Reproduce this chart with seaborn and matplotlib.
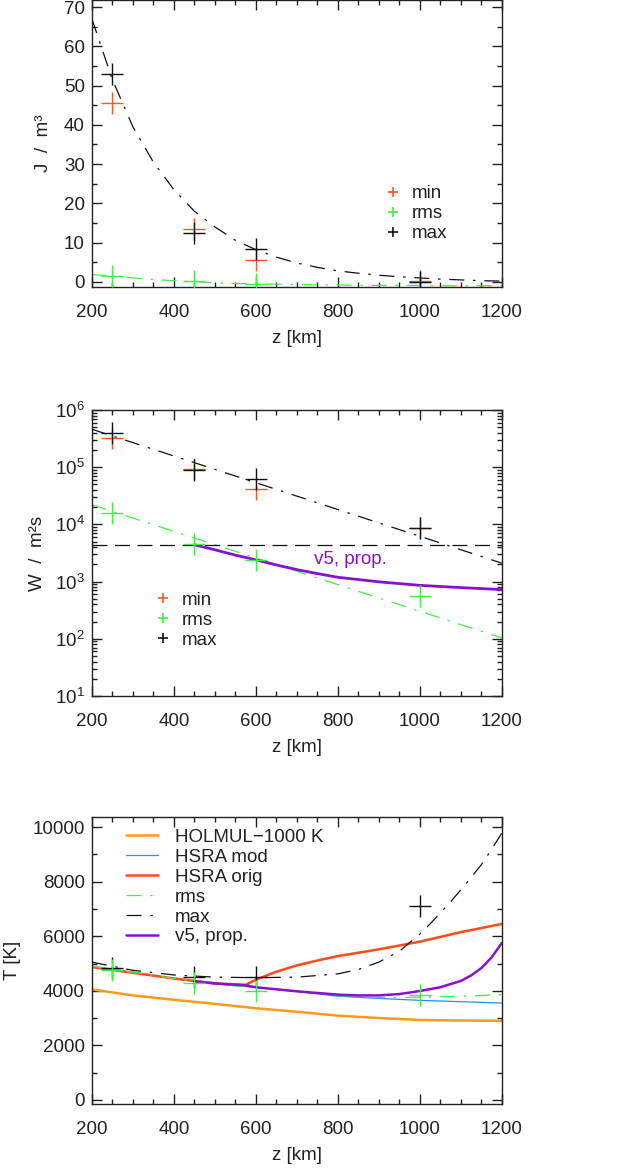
import matplotlib
matplotlib.use('Agg')
import matplotlib.pyplot as plt
import seaborn as sns
import pandas as pd
from matplotlib.lines import Line2D
from matplotlib.ticker import MultipleLocator, LogLocator, NullFormatter

# observed points (z in km)
z_obs = [250, 450, 600, 1000]

# top panel: energy density J / m^3
j_min = [45.5, 13.5, 5.5, 0.3]
j_rms = [1.5, 0.3, -0.5, 0.0]
j_max = [53.0, 12.5, 8.5, 0.0]
z_jfit = [200, 250, 300, 350, 400, 450, 500, 550, 600, 650, 700, 750, 800,
          850, 900, 950, 1000, 1050, 1100, 1150, 1200]
j_fit_max = [67.0, 51.5, 39.5, 30.5, 23.5, 18.0, 14.0, 10.6, 8.2, 6.3, 4.8,
             3.7, 2.8, 2.2, 1.7, 1.3, 1.0, 0.7, 0.5, 0.3, 0.2]
j_fit_rms = [1.9, 1.4, 1.0, 0.6, 0.3, 0.0, -0.2, -0.4, -0.5, -0.6, -0.7,
             -0.75, -0.8, -0.85, -0.9, -0.9, -0.9, -0.95, -1.0, -1.0, -1.0]

# middle panel: flux W / m^2 s
w_min = [3.2e5, 9.4e4, 4.1e4, 8.6e3]
w_rms = [1.6e4, 4.6e3, 2.4e3, 570]
w_max = [3.9e5, 8.9e4, 6.2e4, 8.6e3]
z_wfit = [200, 400, 600, 800, 1000, 1200]
w_fit_max = [4.6e5, 1.57e5, 5.35e4, 1.82e4, 6.2e3, 2.1e3]
w_fit_rms = [2.2e4, 7.55e3, 2.59e3, 885, 303, 104]
z_wlevel = [200, 1200]
w_level = [4.4e3, 4.4e3]
z_wv5 = [450, 500, 550, 600, 650, 700, 750, 800, 900, 1000, 1100, 1200]
w_v5 = [4.4e3, 3.6e3, 2.9e3, 2.4e3, 1.95e3, 1.62e3, 1.38e3, 1.19e3, 990,
        860, 785, 725]

# bottom panel: temperature T [K]
z_t = [200, 300, 400, 500, 600, 700, 800, 900, 1000, 1100, 1200]
t_holmul = [4050, 3830, 3670, 3520, 3360, 3230, 3090, 3000, 2930, 2910, 2900]
t_hsra_mod = [4900, 4680, 4450, 4250, 4120, 3980, 3800, 3720, 3650, 3600, 3550]
t_rms_fit = [4900, 4680, 4450, 4250, 4120, 3980, 3820, 3750, 3760, 3800, 3860]
z_orig = [200, 300, 400, 500, 575, 600, 650, 700, 750, 800, 900, 1000, 1100,
          1200]
t_hsra_orig = [4870, 4660, 4450, 4270, 4220, 4400, 4700, 4930, 5110, 5270,
               5520, 5800, 6150, 6450]
z_tmax = [200, 300, 400, 500, 600, 700, 800, 850, 900, 950, 1000, 1025, 1050,
          1075, 1100, 1125, 1150, 1175, 1200]
t_max_fit = [5050, 4750, 4580, 4500, 4480, 4500, 4620, 4780, 5050, 5450,
             6080, 6450, 6850, 7260, 7700, 8150, 8620, 9180, 9780]
z_tv5 = [450, 500, 575, 600, 700, 800, 850, 900, 950, 1000, 1050, 1100,
         1125, 1150, 1175, 1200]
t_v5 = [4350, 4270, 4200, 4130, 3980, 3860, 3830, 3830, 3880, 3990, 4130,
        4360, 4560, 4830, 5220, 5750]
t_max = [4850, 4520, 4520, 7100]
t_rms = [4750, 4300, 4010, 3850]

c_min = '#ff5522'
c_rms = '#44ee44'
c_max = '#111111'
c_holmul = '#ff9a1a'
c_mod = '#1e8fff'
c_orig = '#ff4a1a'
c_v5 = '#8a10d0'
fg = '#222222'
dashdot = (0, (12, 7, 2, 7))

sns.set_style('ticks')
plt.rcParams['font.family'] = ['Liberation Sans', 'DejaVu Sans']
plt.rcParams['mathtext.fontset'] = 'custom'
plt.rcParams['mathtext.rm'] = 'Liberation Sans'
plt.rcParams['font.size'] = 13
plt.rcParams['text.color'] = fg
plt.rcParams['axes.labelcolor'] = fg

fig = plt.figure(figsize=(6.21, 11.68), dpi=100)
ax1 = fig.add_axes([0.148, 0.7543, 0.660, 0.2457])
ax2 = fig.add_axes([0.148, 0.4041, 0.660, 0.2449])
ax3 = fig.add_axes([0.148, 0.0548, 0.660, 0.2457])


def style_axis(ax):
    for s in ax.spines.values():
        s.set_color(fg)
        s.set_linewidth(1.0)
    ax.tick_params(which='both', direction='in', top=True, right=True,
                   colors=fg, labelsize=13.5)
    ax.tick_params(axis='x', which='both', pad=12)
    ax.tick_params(axis='y', which='both', pad=5)
    ax.tick_params(which='major', length=7, width=1)
    ax.tick_params(which='minor', length=3.5, width=1)
    ax.set_xlim(200, 1200)
    ax.xaxis.set_major_locator(MultipleLocator(200))
    ax.xaxis.set_minor_locator(MultipleLocator(50))
    ax.set_xlabel('z [km]', fontsize=13.5, labelpad=7)


def cross(ax, x, y, color):
    sns.scatterplot(x=x, y=y, ax=ax, marker='+', s=260, color=color,
                    linewidth=1.0, legend=False, zorder=4)


leg_kw = dict(loc='upper left', frameon=False, fontsize=13.5,
              labelspacing=0.15, borderpad=0)

# ---- top panel
sns.lineplot(x=z_jfit, y=j_fit_max, ax=ax1, color=c_max, lw=0.9,
             linestyle=dashdot, sort=False)
sns.lineplot(x=z_jfit, y=j_fit_rms, ax=ax1, color=c_rms, lw=0.9,
             linestyle=dashdot, sort=False)
cross(ax1, z_obs, j_min, c_min)
cross(ax1, z_obs, j_rms, c_rms)
cross(ax1, z_obs, j_max, c_max)
style_axis(ax1)
ax1.set_ylim(-1.3, 71.8)
ax1.yaxis.set_major_locator(MultipleLocator(10))
ax1.yaxis.set_minor_locator(MultipleLocator(5))
ax1.set_ylabel('J  /  m³', fontsize=13.5)
ax1.yaxis.set_label_coords(-0.097, 0.5)
pt_handles = [Line2D([], [], ls='none', marker='+', ms=7, mew=1.2, color=c)
              for c in (c_min, c_rms, c_max)]
ax1.legend(pt_handles, ['min', 'rms', 'max'], bbox_to_anchor=(0.69, 0.387),
           handlelength=1.0, handletextpad=0.5, **leg_kw)

# ---- middle panel
sns.lineplot(x=z_wfit, y=w_fit_max, ax=ax2, color=c_max, lw=0.9,
             linestyle=dashdot)
sns.lineplot(x=z_wfit, y=w_fit_rms, ax=ax2, color=c_rms, lw=0.9,
             linestyle=dashdot)
sns.lineplot(x=z_wlevel, y=w_level, ax=ax2, color=c_max, lw=0.9,
             linestyle=(0, (12, 6)))
sns.lineplot(x=z_wv5, y=w_v5, ax=ax2, color=c_v5, lw=2.0)
cross(ax2, z_obs, w_min, c_min)
cross(ax2, z_obs, w_rms, c_rms)
cross(ax2, z_obs, w_max, c_max)
ax2.set_yscale('log')
style_axis(ax2)
ax2.set_ylim(10, 1e6)
ax2.yaxis.set_major_locator(LogLocator(base=10, numticks=10))
ax2.yaxis.set_minor_locator(LogLocator(base=10, subs=range(2, 10), numticks=10))
ax2.yaxis.set_minor_formatter(NullFormatter())
ax2.set_ylabel('W  /  m²s', fontsize=13.5)
ax2.yaxis.set_label_coords(-0.112, 0.5)
ax2.text(741, 2.4e3, 'v5, prop.', color=c_v5, fontsize=13.5, va='center')
ax2.legend(pt_handles, ['min', 'rms', 'max'], bbox_to_anchor=(0.128, 0.397),
           handlelength=1.0, handletextpad=0.5, **leg_kw)

# ---- bottom panel
sns.lineplot(x=z_t, y=t_holmul, ax=ax3, color=c_holmul, lw=1.8,
             label='HOLMUL\u22121000 K')
sns.lineplot(x=z_t, y=t_hsra_mod, ax=ax3, color=c_mod, lw=0.9,
             label='HSRA mod')
sns.lineplot(x=z_orig, y=t_hsra_orig, ax=ax3, color=c_orig, lw=1.8,
             label='HSRA orig')
sns.lineplot(x=z_t, y=t_rms_fit, ax=ax3, color=c_rms, lw=0.9,
             linestyle=dashdot, label='rms')
sns.lineplot(x=z_tmax, y=t_max_fit, ax=ax3, color=c_max, lw=0.9,
             linestyle=dashdot, label='max')
sns.lineplot(x=z_tv5, y=t_v5, ax=ax3, color=c_v5, lw=1.8,
             label='v5, prop.')
cross(ax3, z_obs, t_max, c_max)
cross(ax3, z_obs, t_rms, c_rms)
style_axis(ax3)
ax3.set_ylim(-150, 10370)
ax3.yaxis.set_major_locator(MultipleLocator(2000))
ax3.yaxis.set_minor_locator(MultipleLocator(1000))
ax3.set_ylabel('T [K]', fontsize=13.5)
ax3.yaxis.set_label_coords(-0.172, 0.5)
ax3.legend(bbox_to_anchor=(0.061, 0.992), handlelength=1.7,
           handletextpad=0.9, **leg_kw)

fig.savefig('out.png', dpi=100)
